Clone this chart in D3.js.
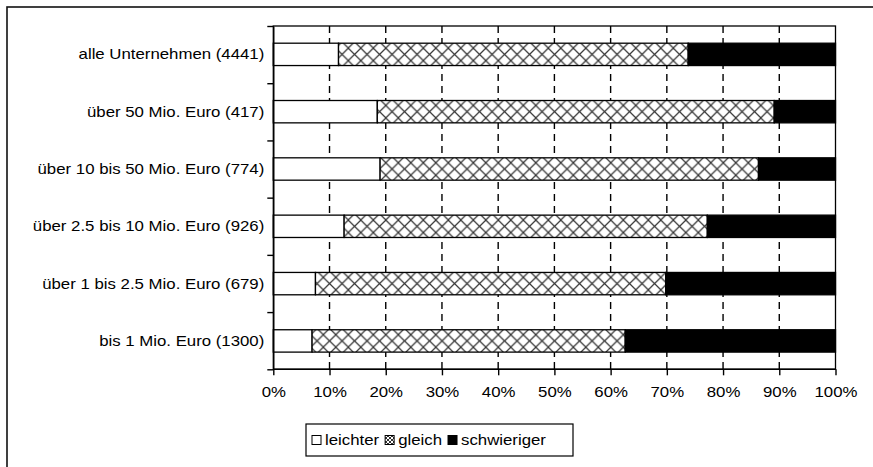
<!DOCTYPE html>
<html>
<head>
<meta charset="utf-8">
<script src="https://cdn.jsdelivr.net/npm/d3@7/dist/d3.min.js"></script>
<style>
  html, body { margin: 0; padding: 0; background: #fff; }
  svg { display: block; }
  text { font-family: "Liberation Sans", Arial, sans-serif; fill: #000; }
</style>
</head>
<body>
<svg id="chart" width="873" height="467"></svg>
<script>
const categories = [
  "alle Unternehmen (4441)",
  "über 50 Mio. Euro (417)",
  "über 10 bis 50 Mio. Euro (774)",
  "über 2.5 bis 10 Mio. Euro (926)",
  "über 1 bis 2.5 Mio. Euro (679)",
  "bis 1 Mio. Euro (1300)"
];
const leichter    = [11.6, 18.5, 19.0, 12.6, 7.5, 6.9];
const gleich      = [62.2, 70.6, 67.3, 64.6, 62.3, 55.7];
const schwieriger = [26.2, 10.9, 13.7, 22.8, 30.2, 37.4];
const seriesNames = ["leichter", "gleich", "schwieriger"];
const xTicks = [0, 10, 20, 30, 40, 50, 60, 70, 80, 90, 100];

const FS = 14;     // font size
const SX = 1.2;    // horizontal stretch of text

const svg = d3.select("#chart");
const plot = { left: 273.3, right: 835.5, top: 26, bottom: 369.3 };

// outer frame
svg.append("rect")
  .attr("x", 7).attr("y", 7).attr("width", 900).attr("height", 500)
  .attr("fill", "none").attr("stroke", "#111").attr("stroke-width", 1.6);

const rows = categories.map((c, i) => ({
  cat: c, leichter: leichter[i], gleich: gleich[i], schwieriger: schwieriger[i]
}));

const x = d3.scaleLinear().domain([0, 100]).range([plot.left, plot.right]);
const y = d3.scaleBand().domain(categories).range([plot.top, plot.bottom])
  .paddingInner(0.61).paddingOuter(0.3);
const yIdx = d3.scaleLinear().domain([0, categories.length]).range([plot.top, plot.bottom]);

// hatch patterns (one per row so crossings align with bar centre)
const defs = svg.append("defs");
const P = 12.5;
categories.forEach((c, i) => {
  const cy = y(c) + y.bandwidth() / 2;
  const pat = defs.append("pattern")
    .attr("id", "hatch" + i)
    .attr("patternUnits", "userSpaceOnUse")
    .attr("width", P).attr("height", P)
    .attr("x", plot.left).attr("y", cy - P / 2);
  pat.append("rect").attr("width", P).attr("height", P).attr("fill", "#fff");
  pat.append("path")
    .attr("d", `M0,0L${P},${P}M${P},0L0,${P}M-1,${P-1}L1,${P+1}M${P-1},-1L${P+1},1`)
    .attr("stroke", "#333").attr("stroke-width", 1.2).attr("fill", "none");
});

// dashed gridlines
svg.append("g").selectAll("line")
  .data(xTicks.filter(d => d > 0 && d < 100))
  .join("line")
  .attr("x1", d => x(d)).attr("x2", d => x(d))
  .attr("y1", plot.top).attr("y2", plot.bottom)
  .attr("stroke", "#000").attr("stroke-width", 1.4)
  .attr("stroke-dasharray", "7,5");

// plot border (top/right)
svg.append("rect")
  .attr("x", plot.left).attr("y", plot.top)
  .attr("width", plot.right - plot.left).attr("height", plot.bottom - plot.top)
  .attr("fill", "none").attr("stroke", "#000").attr("stroke-width", 1.3);

// stacked bars
const stacked = d3.stack().keys(seriesNames)(rows);
const fills = {
  leichter: () => "#fff",
  gleich: (i) => `url(#hatch${i})`,
  schwieriger: () => "#000"
};
stacked.forEach(layer => {
  svg.append("g").selectAll("rect")
    .data(layer)
    .join("rect")
    .attr("x", d => x(d[0]))
    .attr("width", d => x(d[1]) - x(d[0]))
    .attr("y", d => y(d.data.cat))
    .attr("height", y.bandwidth())
    .attr("fill", (d, i) => fills[layer.key](i))
    .attr("stroke", "#000").attr("stroke-width", 1.3);
});

// left axis (ticks at band boundaries)
const gl = svg.append("g").attr("transform", `translate(${plot.left},0)`)
  .call(d3.axisLeft(yIdx).tickValues(d3.range(categories.length + 1))
    .tickSize(6).tickSizeOuter(0).tickFormat(""));
gl.selectAll("path,line").attr("stroke", "#000").attr("stroke-width", 1.4);

// category labels
svg.append("g").selectAll("text")
  .data(categories)
  .join("text")
  .attr("transform", d => `translate(${plot.left - 9},${y(d) + y.bandwidth() / 2}) scale(${SX},1)`)
  .attr("dy", "0.35em")
  .attr("text-anchor", "end")
  .style("font-size", FS + "px")
  .text(d => d);

// bottom axis
const gb = svg.append("g").attr("transform", `translate(0,${plot.bottom})`)
  .call(d3.axisBottom(x).tickValues(xTicks).tickSize(6).tickSizeOuter(0)
    .tickFormat(d => d + "%"));
gb.selectAll("path,line").attr("stroke", "#000").attr("stroke-width", 1.4);
gb.selectAll("text")
  .attr("y", 18).attr("dy", "0.71em")
  .attr("transform", `scale(${SX},1)`)
  .style("font-size", FS + "px")
  .attr("fill", "#000");
gb.select(".domain").remove();
svg.append("line")
  .attr("x1", plot.left).attr("x2", plot.right)
  .attr("y1", plot.bottom).attr("y2", plot.bottom)
  .attr("stroke", "#000").attr("stroke-width", 1.4);

// legend
const lg = { x: 306, y: 424, w: 267, h: 32 };
const legend = svg.append("g");
legend.append("rect")
  .attr("x", lg.x).attr("y", lg.y).attr("width", lg.w).attr("height", lg.h)
  .attr("fill", "#fff").attr("stroke", "#000").attr("stroke-width", 1.2);
const patL = defs.append("pattern")
  .attr("id", "hatchL").attr("patternUnits", "userSpaceOnUse")
  .attr("width", 4).attr("height", 4);
patL.append("rect").attr("width", 4).attr("height", 4).attr("fill", "#fff");
patL.append("path").attr("d", "M0,0L4,4M4,0L0,4").attr("stroke", "#333").attr("stroke-width", 1);
const legFill = ["#fff", "url(#hatchL)", "#000"];

let cx = lg.x + 6;
const cyL = lg.y + lg.h / 2;
seriesNames.forEach((name, i) => {
  legend.append("rect")
    .attr("x", cx).attr("y", cyL - 4.5).attr("width", 9).attr("height", 9)
    .attr("fill", legFill[i]).attr("stroke", "#000").attr("stroke-width", 1);
  cx += 9 + 4;
  const t = legend.append("text")
    .attr("transform", `translate(${cx},${cyL}) scale(${SX},1)`)
    .attr("dy", "0.35em")
    .style("font-size", FS + "px")
    .text(name);
  cx += t.node().getComputedTextLength() * SX + 6;
});
</script>
</body>
</html>
